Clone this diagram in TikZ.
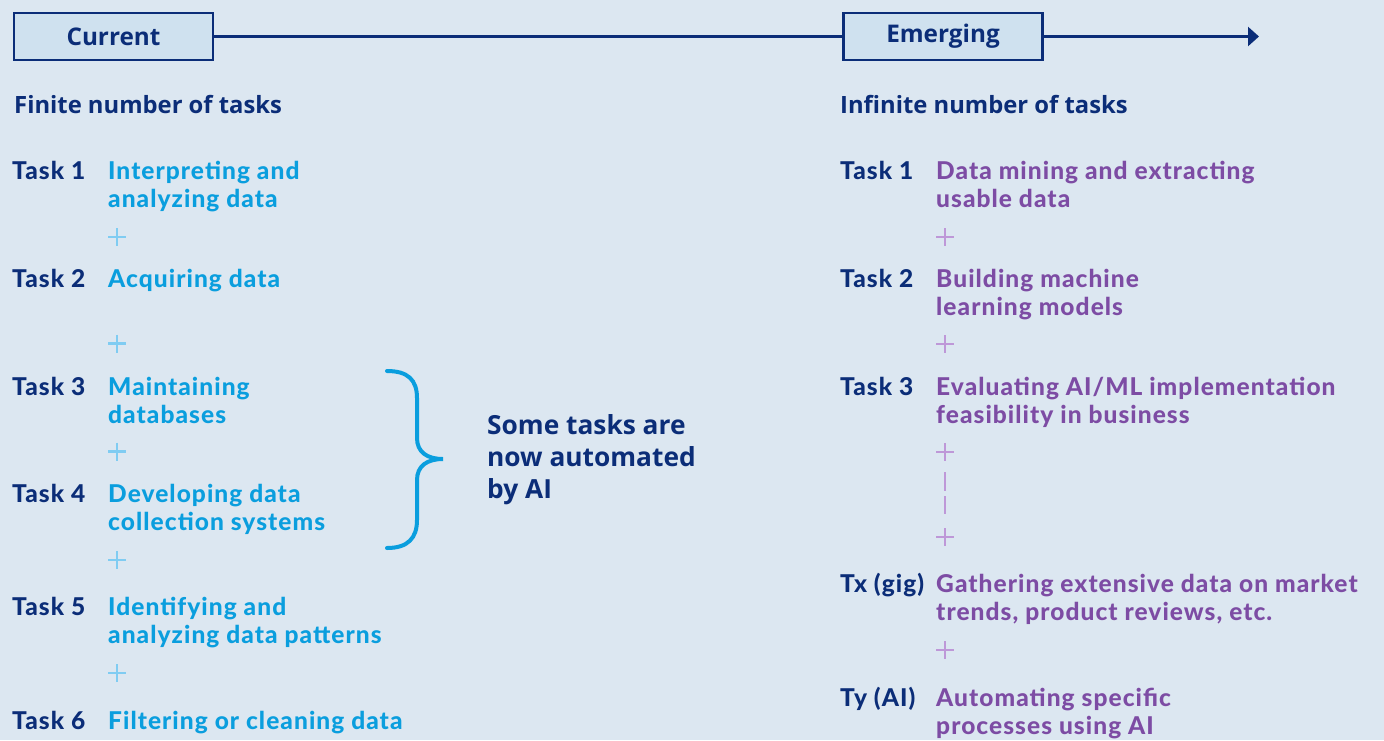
\documentclass[tikz,border=0pt]{standalone}
\usepackage{fontspec}
\usetikzlibrary{arrows.meta}
\IfFontExistsTF{Lato-Heavy.ttf}{\newfontfamily\latofont{Lato-Heavy.ttf}[LetterSpace=4.3]\def\latosize{24.5}}{%
  \IfFontExistsTF{Lato-Black.ttf}{\newfontfamily\latofont{Lato-Black.ttf}[LetterSpace=4.3]\def\latosize{24.5}}{%
  \newfontfamily\latofont{Lato Bold}[FakeBold=1.3,LetterSpace=5]\def\latosize{24.5}}}
\IfFontExistsTF{Open Sans Bold}{\newfontfamily\notofont{Open Sans Bold}}{%
  \IfFontExistsTF{Noto Sans:style=Bold}{\newfontfamily\notofont{Noto Sans:style=Bold}}{%
    \IfFontExistsTF{Fira Sans Bold}{\newfontfamily\notofont{Fira Sans Bold}}{\newfontfamily\notofont{Lato Bold}}}}
\definecolor{bgc}{HTML}{DCE7F1}
\definecolor{boxfill}{HTML}{CFE1EF}
\definecolor{navy}{HTML}{0B2D78}
\definecolor{bluetxt}{HTML}{0A9EDE}
\definecolor{blueplus}{HTML}{80CCF2}
\definecolor{purptxt}{HTML}{7D4CA4}
\definecolor{purpplus}{HTML}{BE98D8}
\newcommand\twol[2]{\vtop{\hbox{#1}\hbox{#2}}}
\tikzset{
  stagebox/.style={draw=navy, line width=2.4pt, fill=boxfill, minimum width=199pt, minimum height=47pt, inner sep=0pt, text=navy, font=\notofont\fontsize{24.3}{28}\selectfont},
  heading/.style={anchor=base west, inner sep=0pt, text=navy, font=\notofont\fontsize{23.8}{28}\selectfont},
  tasklbl/.style={anchor=base west, inner sep=0pt, text=navy, font=\latofont\fontsize{\latosize}{28}\selectfont},
  descL/.style={anchor=base west, inner sep=0pt, text=bluetxt, font=\latofont\fontsize{\latosize}{28}\selectfont},
  descR/.style={anchor=base west, inner sep=0pt, text=purptxt, font=\latofont\fontsize{\latosize}{28}\selectfont},
  plusL/.style={draw=blueplus, line width=2.2pt},
  plusR/.style={draw=purpplus, line width=2.2pt},
  timeline/.style={draw=navy, line width=2.4pt},
  bracestyle/.style={draw=bluetxt, line width=4pt, line cap=round},
  note/.style={anchor=base west, inner sep=0pt, text=navy, font=\notofont\fontsize{26.3}{32}\selectfont}
}
\begin{document}
\begin{tikzpicture}[x=1pt,y=-1pt]
\fill[bgc] (0,0) rectangle (1384,740);
\useasboundingbox (0,0) rectangle (1384,740);

% stages and timeline
\node[stagebox] (cur) at (113.5,36.5) {Current};
\node[stagebox] (emg) at (943,36.5) {Emerging};
\coordinate (arrend) at (1259,36.5);
\draw[timeline] (cur.east) -- (emg.west);
\draw[timeline, -{Triangle[length=11pt,width=19pt]}] (emg.east) -- (arrend);

% headings
\node[heading] (hl) at (14,113) {Finite number of tasks};
\node[heading] (hr) at (840,113) {Infinite number of tasks};

% left column
\node[tasklbl] (l1) at (12,179) {Task 1};
\node[descL] (d1) at (108,179) {\twol{Interpreting and}{analyzing data}};
\node[tasklbl] (l2) at (12,287) {Task 2};
\node[descL] (d2) at (108,287) {Acquiring data};
\node[tasklbl] (l3) at (12,395) {Task 3};
\node[descL] (d3) at (108,395) {\twol{Maintaining}{databases}};
\node[tasklbl] (l4) at (12,502) {Task 4};
\node[descL] (d4) at (108,502) {\twol{Developing data}{collection systems}};
\node[tasklbl] (l5) at (12,615) {Task 5};
\node[descL] (d5) at (108,615) {\twol{Identifying and}{analyzing data patterns}};
\node[tasklbl] (l6) at (12,729) {Task 6};
\node[descL] (d6) at (108,729) {Filtering or cleaning data};

\foreach \yy in {237,343.5,451.5,560,673}
  \draw[plusL] (108,\yy) -- (126,\yy) (117,\yy-9) -- (117,\yy+9);

% brace
\draw[bracestyle] (387,371) .. controls (408,371) and (417,380) .. (417,398)
  -- (417,438) .. controls (417,452) and (427,459) .. (443,459)
  .. controls (427,459) and (417,466) .. (417,480)
  -- (417,520) .. controls (417,538) and (408,548) .. (387,548);
\node[note] (nt) at (487,434) {\vtop{\hbox{Some tasks are}\hbox{now automated}\hbox{by AI}}};

% right column
\node[tasklbl] (r1) at (840,179) {Task 1};
\node[descR] (e1) at (936,179) {\twol{Data mining and extracting}{usable data}};
\node[tasklbl] (r2) at (840,287) {Task 2};
\node[descR] (e2) at (936,287) {\twol{Building machine}{learning models}};
\node[tasklbl] (r3) at (840,395) {Task 3};
\node[descR] (e3) at (936,395) {\twol{Evaluating AI/ML implementation}{feasibility in business}};
\node[tasklbl] (rx) at (840,592) {Tx (gig)};
\node[descR] (ex) at (936,592) {\twol{Gathering extensive data on market}{trends, product reviews, etc.}};
\node[tasklbl] (ry) at (840,706) {Ty (AI)};
\node[descR] (ey) at (936,706) {\twol{Automating specific}{processes using AI}};

\foreach \yy in {237,344,452,537,650}
  \draw[plusR] (936,\yy) -- (954,\yy) (945,\yy-9) -- (945,\yy+9);
\draw[plusR] (945,472) -- (945,491) (945,496) -- (945,514);
\end{tikzpicture}
\end{document}
